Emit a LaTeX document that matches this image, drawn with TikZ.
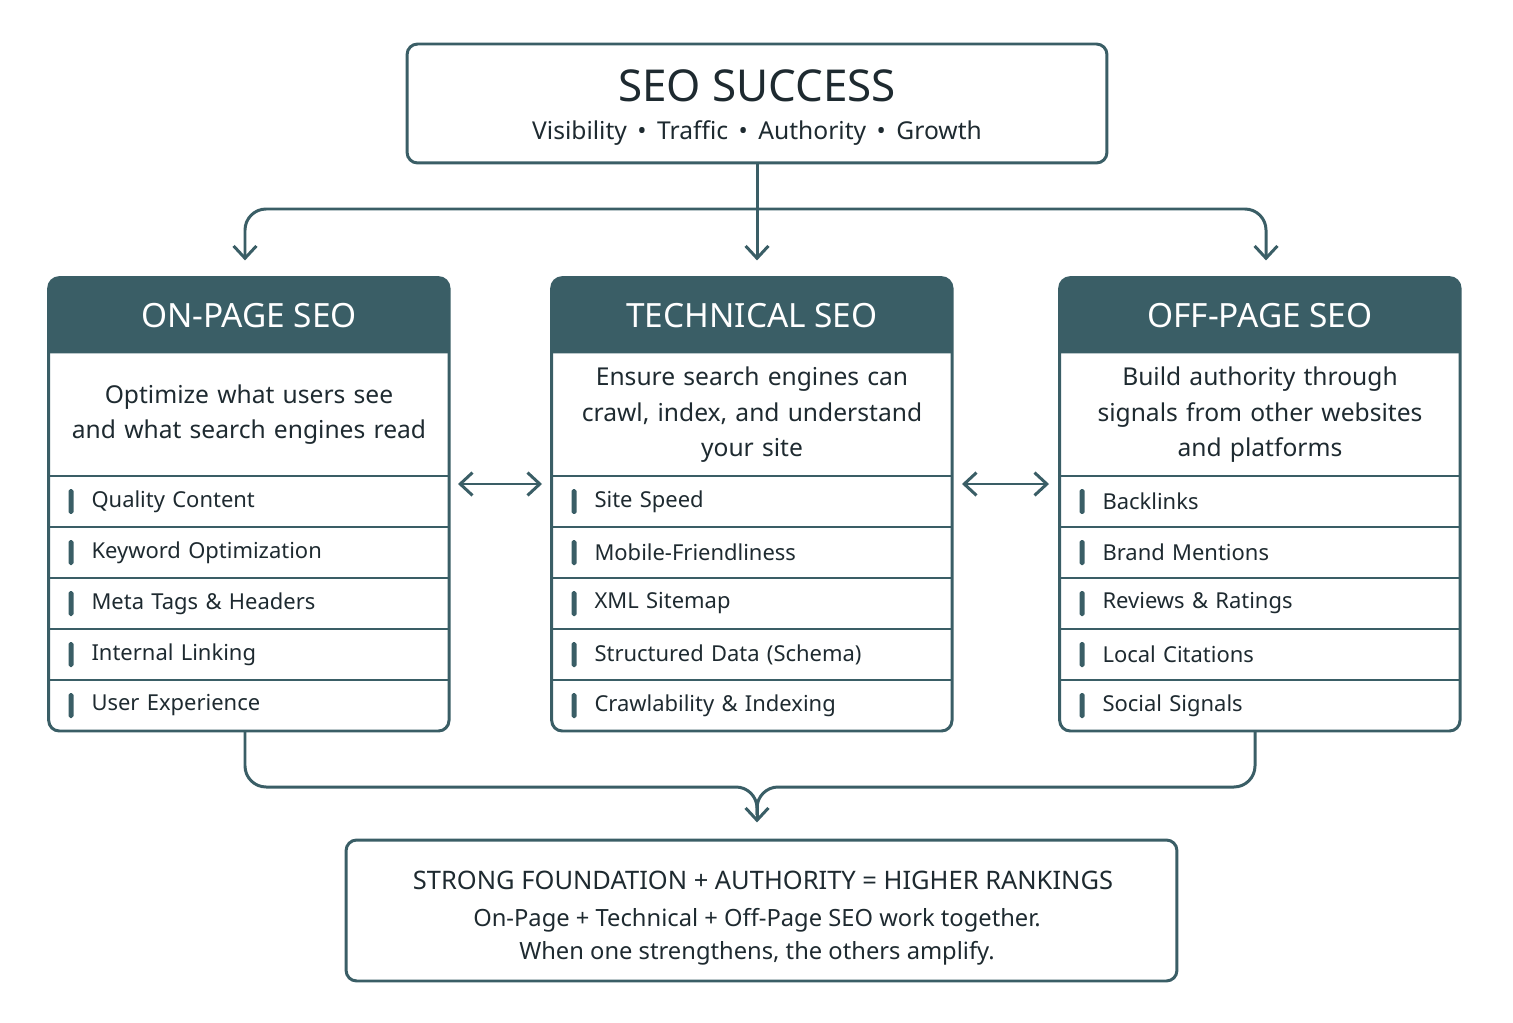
\documentclass[tikz,border=0pt]{standalone}
\usepackage{fontspec}
\setmainfont{Noto Sans}
\usetikzlibrary{arrows.meta,positioning}
\definecolor{seoteal}{HTML}{3A5E66}
\definecolor{seoink}{HTML}{1E2A30}

\begin{document}
\begin{tikzpicture}[x=0.02cm,y=-0.02cm,>={Straight Barb[length=7pt,width=13pt]},
  line/.style={draw=seoteal,line width=1.7pt},
  arr/.style={line,->,rounded corners=12pt},
  frame/.style={line,rounded corners=6pt},
  head/.style={minimum width=8cm,minimum height=1.5cm,text=white,font=\fontsize{19}{22}\selectfont\bfseries},
  desc/.style={minimum width=8cm,minimum height=2.44cm,text width=7.2cm,align=center,text=seoink,font=\fontsize{14}{20}\selectfont},
  item/.style={minimum width=8cm,minimum height=1.02cm,text width=6.9cm,inner sep=0pt,xshift=0.3cm,text=seoink,font=\fontsize{12.5}{15}\selectfont},
  tick/.style={fill=seoteal,rounded corners=1pt,minimum width=0.1cm,minimum height=0.5cm,inner sep=0pt}]

\useasboundingbox (0,0) rectangle (1513,1023);

% top goal
\node[frame,minimum width=14cm,minimum height=2.38cm] (top) at (757,103.5) {};
\node[text=seoink,font=\fontsize{25}{28}\selectfont\bfseries] (toptitle) at (757,86) {SEO SUCCESS};
\node[text=seoink,font=\fontsize{14}{17}\selectfont] (topsub) at (757,133)
  {Visibility \,\textbullet\, Traffic \,\textbullet\, Authority \,\textbullet\, Growth};

% the three columns
\foreach \name/\cx/\title/\desctext/\ia/\ib/\ic/\id/\ie in {onp/249/ON-PAGE SEO/{Optimize what users see\\and what search engines read}/Quality Content/Keyword Optimization/Meta Tags \& Headers/Internal Linking/User Experience,tech/752/TECHNICAL SEO/{Ensure search engines can\\crawl, index, and understand\\your site}/Site Speed/Mobile-Friendliness/XML Sitemap/Structured Data (Schema)/Crawlability \& Indexing,offp/1260/OFF-PAGE SEO/{Build authority through\\signals from other websites\\and platforms}/Backlinks/Brand Mentions/Reviews \& Ratings/Local Citations/Social Signals}{
  \node[head] (\name-h) at (\cx,315.5) {};
  \fill[seoteal] (\name-h.south west) [rounded corners=6pt] -- (\name-h.north west)
    -- (\name-h.north east) [sharp corners] -- (\name-h.south east) -- cycle;
  \node[head] at (\name-h) {\title};
  \node[desc] (\name-d) [below=0pt of \name-h] {\desctext};
  \node[item] (\name-1) at (\cx,501.5) {\ia};
  \node[item] (\name-2) at (\cx,552.5) {\ib};
  \node[item] (\name-3) at (\cx,603.5) {\ic};
  \node[item] (\name-4) at (\cx,654.5) {\id};
  \node[item] (\name-5) at (\cx,705.5) {\ie};
  \foreach \i in {1,...,5}{
    \node[tick] at (\cx-178,501.5+51*\i-51) {};
    \draw[line,line width=1.2pt] (\cx-200,476+51*\i-51) -- (\cx+200,476+51*\i-51);
  }
  \draw[frame] (\name-h.north west) rectangle (\cx+200,731);
}

% links from the goal
\coordinate (split) at (757,209);
\coordinate (onp-in) at (245,278);
\coordinate (tech-in) at (757,278);
\coordinate (offp-in) at (1266,278);
\draw[arr,shorten >=10pt] (top.south) -- (tech-in);
\draw[arr,shorten >=10pt] (split) -| (onp-in);
\draw[arr,shorten >=10pt] (split) -| (offp-in);

% neighbours reinforce each other
\draw[line,<->] (458,484) -- (542,484);
\draw[line,<->] (962,484) -- (1049,484);

% result
\node[frame,minimum width=16.62cm,minimum height=2.82cm] (res) at (761.5,910.5) {};
\node[text=seoink,font=\fontsize{14.5}{17}\selectfont\bfseries] (restitle) at (763,880)
  {STRONG FOUNDATION + AUTHORITY = HIGHER RANKINGS};
\node[text=seoink,align=center,font=\fontsize{13.5}{19}\selectfont] (restext) at (757,937)
  {On-Page + Technical + Off-Page SEO work together.\\When one strengthens, the others amplify.};
\coordinate (onp-out) at (245,731);
\coordinate (offp-out) at (1255,731);
\coordinate (join) at (757,787);
\coordinate (res-in) at (757,840);
\draw[line,rounded corners=12pt] (onp-out) |- (join) -- (757,815);
\draw[line,rounded corners=12pt] (offp-out) |- (join) -- (757,815);
\draw[arr,shorten >=10pt] (757,800) -- (res-in);
\end{tikzpicture}
\end{document}
